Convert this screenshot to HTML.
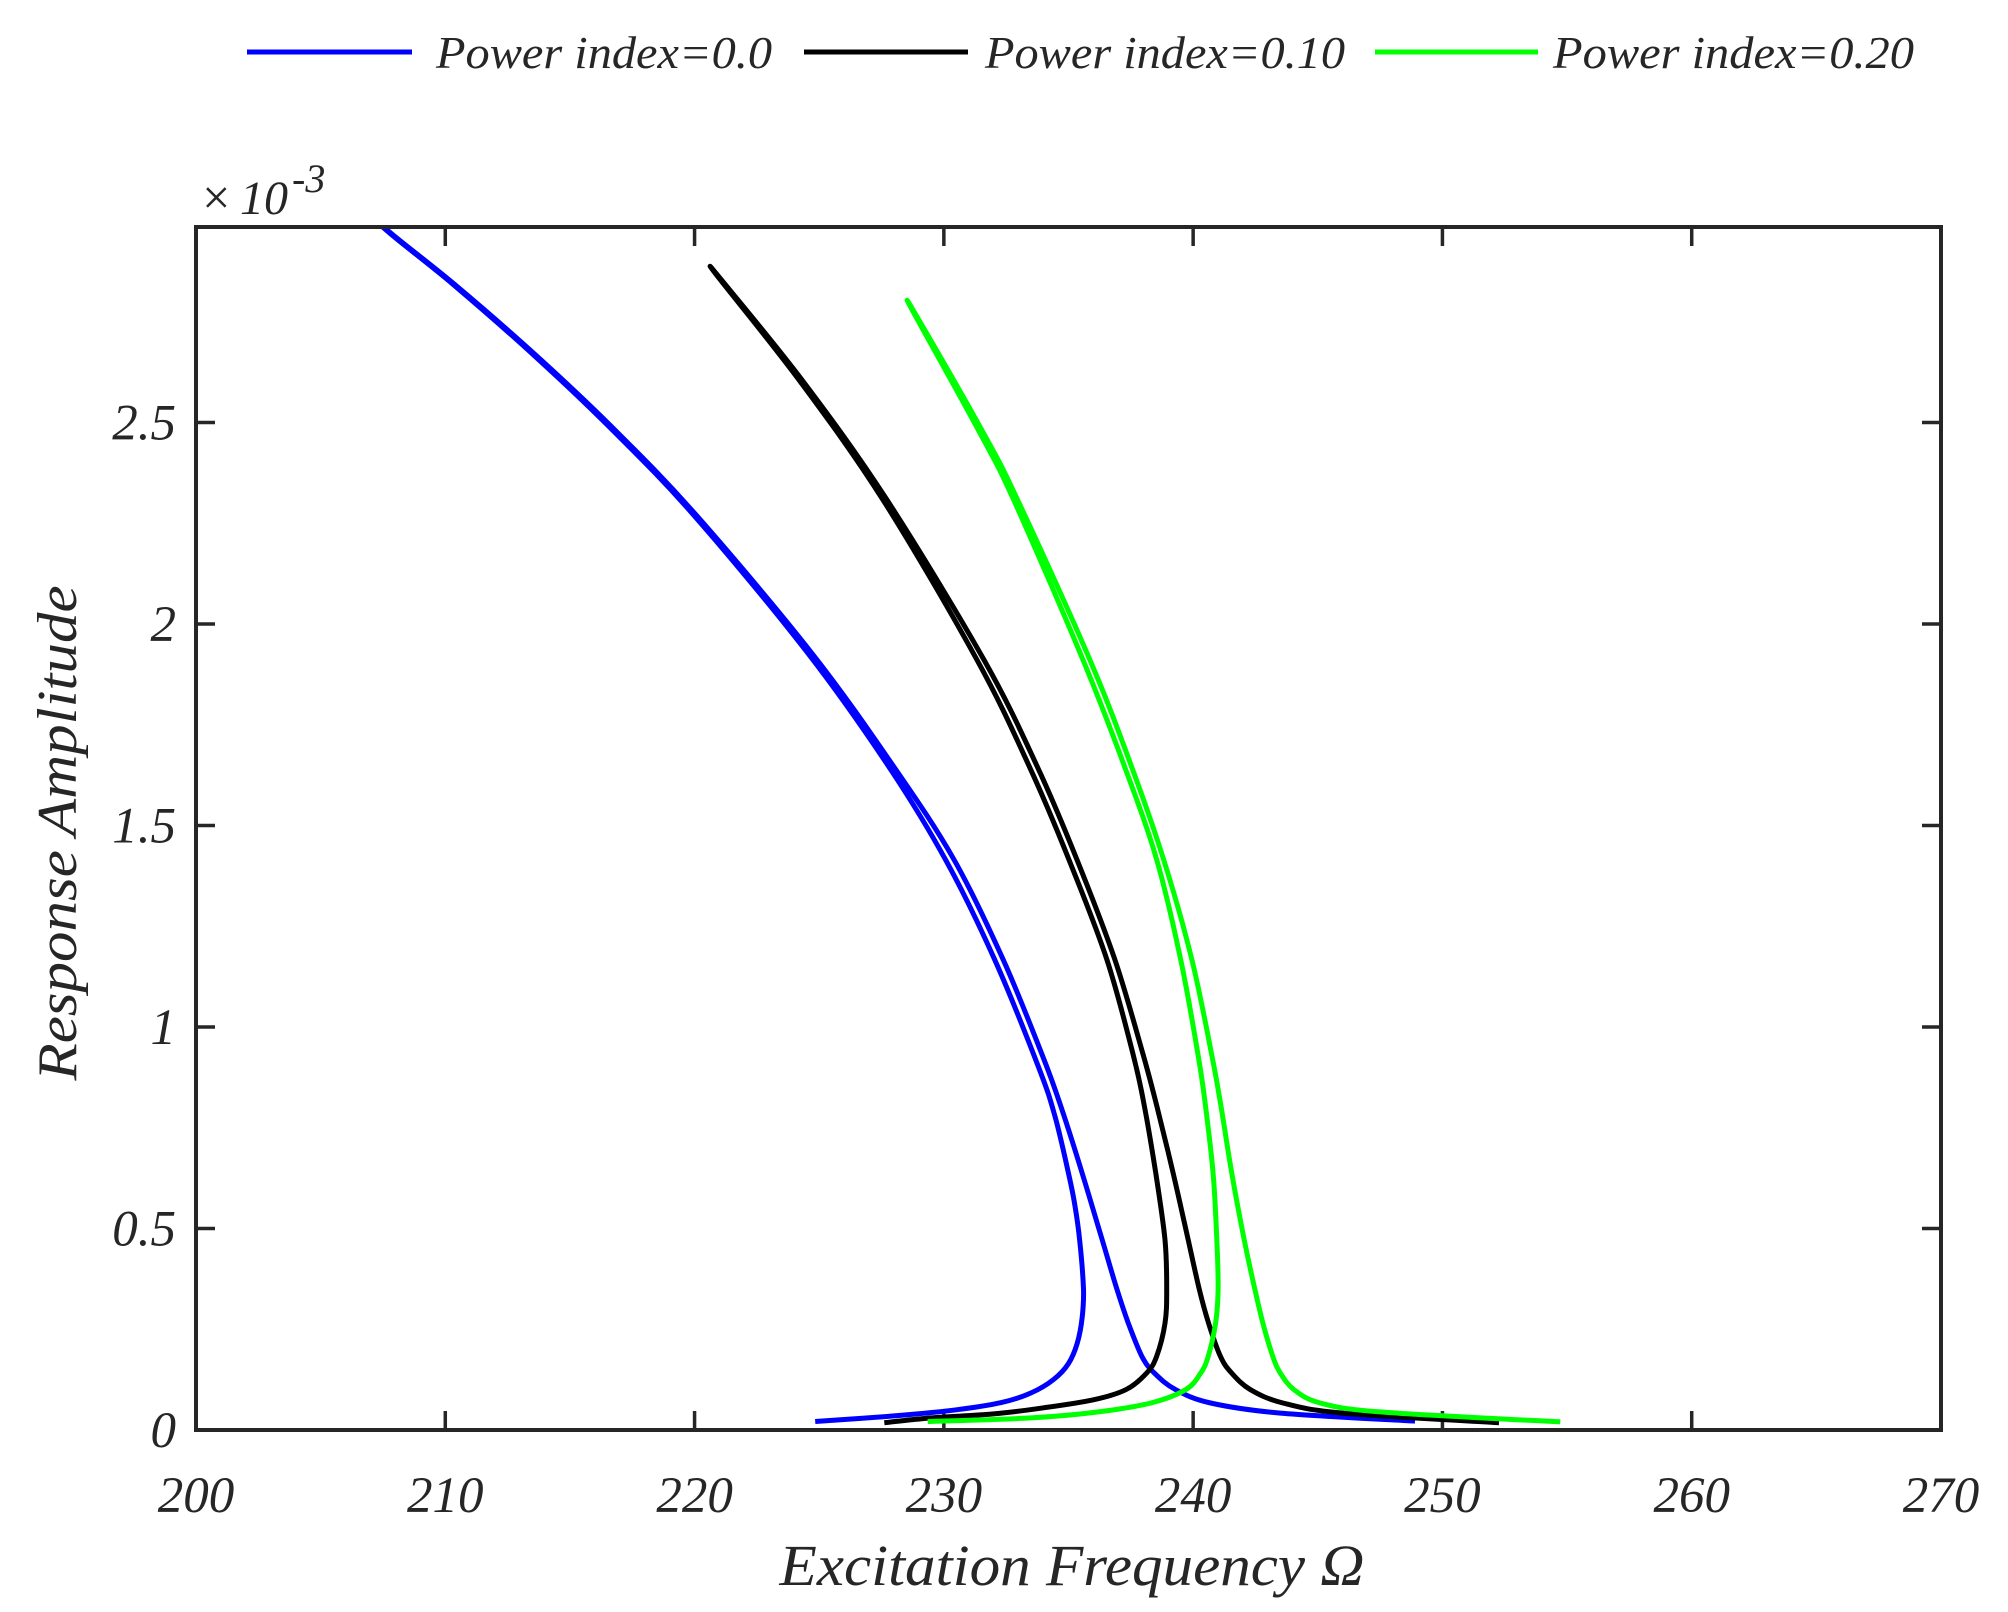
<!DOCTYPE html>
<html><head><meta charset="utf-8">
<style>
html,body{margin:0;padding:0;background:#fff;}
svg{display:block;}
text{font-family:"Liberation Serif",serif;font-style:italic;fill:#262626;}
</style></head>
<body>
<svg id="chart" width="2008" height="1612" viewBox="0 0 2008 1612" xmlns="http://www.w3.org/2000/svg">
<defs><clipPath id="plotclip"><rect x="196" y="227" width="1745" height="1203"/></clipPath></defs>
<g id="legend">
  <g>
    <line x1="247" y1="52" x2="412" y2="52" stroke="#0000ff" stroke-width="5"/>
    <text x="436" y="68" font-size="46" textLength="336" lengthAdjust="spacingAndGlyphs">Power index=0.0</text>
  </g>
  <g>
    <line x1="804" y1="52" x2="968" y2="52" stroke="#000000" stroke-width="5"/>
    <text x="985" y="68" font-size="46" textLength="360" lengthAdjust="spacingAndGlyphs">Power index=0.10</text>
  </g>
  <g>
    <line x1="1375" y1="52" x2="1538" y2="52" stroke="#00ff00" stroke-width="5"/>
    <text x="1553" y="68" font-size="46" textLength="361" lengthAdjust="spacingAndGlyphs">Power index=0.20</text>
  </g>
</g>
<g id="axes"></g>
<g id="series" clip-path="url(#plotclip)"></g>
<rect x="196" y="227" width="1745" height="1203" fill="none" stroke="#262626" stroke-width="4"/>
<g>
  <text x="199" y="214" font-size="50" font-style="normal">×</text>
  <text x="240" y="214" font-size="48">10</text>
  <text x="292" y="192" font-size="40">-3</text>
</g>
<text x="1072" y="1585" font-size="58" text-anchor="middle" textLength="585" lengthAdjust="spacingAndGlyphs">Excitation Frequency Ω</text>
<text transform="translate(76,833) rotate(-90)" font-size="56" text-anchor="middle" textLength="495" lengthAdjust="spacingAndGlyphs">Response Amplitude</text>
</svg>
<script>
const xTicks = [200,210,220,230,240,250,260,270];
const yTicks = [0,0.5,1,1.5,2,2.5];
const yTickLabels = ["0","0.5","1","1.5","2","2.5"];
const seriesNames = ["Power index=0.0","Power index=0.10","Power index=0.20"];
const seriesColors = ["#0000ff","#000000","#00ff00"];
const blueX = [224.84,228.0,230.5,232.3,233.5,234.4,235.0,235.35,235.55,235.6,235.45,235.25,235.0,234.45,233.8,232.04,230.07,227.79,224.54,219.97,216.58,213.57,210.31,207.53,206.6,207.57,210.37,213.65,216.68,220.07,224.70,227.99,230.41,232.38,233.95,234.7,235.55,236.35,236.95,237.4,237.95,238.45,239.3,240.7,243.5,248.9];
const blueY = [0.021,0.035,0.050,0.068,0.092,0.125,0.165,0.215,0.280,0.350,0.470,0.560,0.637,0.780,0.900,1.167,1.415,1.646,1.928,2.270,2.489,2.666,2.843,2.983,3.05,2.983,2.843,2.666,2.489,2.270,1.928,1.646,1.415,1.167,0.93,0.802,0.637,0.472,0.348,0.265,0.182,0.141,0.100,0.067,0.042,0.022];
const blackX = [227.61,229.5,232.0,234.0,236.0,237.3,238.13,238.53,238.87,238.94,238.87,238.5,238.05,237.6,236.54,235.02,233.43,231.33,227.56,224.22,221.01,221.05,224.34,227.72,231.61,233.75,235.34,236.86,238.0,238.55,239.2,239.8,240.25,240.62,241.1,241.55,242.3,243.6,246.0,252.27];
const blackY = [0.018,0.030,0.040,0.055,0.075,0.100,0.141,0.182,0.265,0.348,0.472,0.637,0.802,0.93,1.167,1.415,1.646,1.911,2.308,2.603,2.856,2.856,2.603,2.308,1.911,1.646,1.415,1.167,0.93,0.802,0.637,0.472,0.348,0.265,0.182,0.141,0.100,0.067,0.042,0.018];
const greenX = [229.35,233.5,236.2,238.3,239.7,240.3,240.6,240.9,241.0,240.95,240.8,240.5,240.2,239.5,238.54,237.25,235.58,232.80,231.43,228.84,228.88,231.57,232.96,235.86,237.53,238.82,239.95,240.75,241.12,241.55,242.05,242.48,242.8,243.2,243.5,244.05,245.1,247.5,254.73];
const greenY = [0.021,0.030,0.045,0.067,0.100,0.141,0.182,0.265,0.348,0.472,0.637,0.802,0.93,1.167,1.415,1.646,1.911,2.308,2.476,2.767,2.767,2.476,2.308,1.911,1.646,1.415,1.167,0.93,0.802,0.637,0.472,0.348,0.265,0.182,0.141,0.100,0.067,0.045,0.020];

const NS = "http://www.w3.org/2000/svg";
const X0 = 196, X1 = 1941, XMIN = 200, XMAX = 270;
const YB = 1430, YPX = 403;
function sx(v){ return X0 + (v - XMIN) * (X1 - X0) / (XMAX - XMIN); }
function sy(v){ return YB - v * YPX; }

const axes = document.getElementById('axes');
xTicks.forEach(t => {
  const x = sx(t);
  [[1430,1411],[227,246]].forEach(([a,b]) => {
    const l = document.createElementNS(NS,'line');
    l.setAttribute('x1',x); l.setAttribute('x2',x); l.setAttribute('y1',a); l.setAttribute('y2',b);
    l.setAttribute('stroke','#262626'); l.setAttribute('stroke-width','3.5');
    
    
    axes.appendChild(l);
  });
  const tx = document.createElementNS(NS,'text');
  tx.setAttribute('x',x); tx.setAttribute('y',1512);
  tx.setAttribute('font-size','51'); tx.setAttribute('text-anchor','middle');
  tx.textContent = String(t);
  
  
  axes.appendChild(tx);
});
yTicks.forEach((t,i) => {
  const y = sy(t);
  [[196,215],[1941,1922]].forEach(([a,b]) => {
    const l = document.createElementNS(NS,'line');
    l.setAttribute('x1',a); l.setAttribute('x2',b); l.setAttribute('y1',y); l.setAttribute('y2',y);
    l.setAttribute('stroke','#262626'); l.setAttribute('stroke-width','3.5');
    
    
    axes.appendChild(l);
  });
  const tx = document.createElementNS(NS,'text');
  tx.setAttribute('x',176); tx.setAttribute('y',y+17);
  tx.setAttribute('font-size','51'); tx.setAttribute('text-anchor','end');
  tx.textContent = yTickLabels[i];
  
  
  axes.appendChild(tx);
});

function smoothPath(xs, ys){
  const p = xs.map((v,i)=>[sx(v), sy(ys[i])]);
  let d = 'M' + p[0][0].toFixed(1) + ',' + p[0][1].toFixed(1);
  for (let i=0;i<p.length-1;i++){
    const p0 = p[Math.max(i-1,0)], p1 = p[i], p2 = p[i+1], p3 = p[Math.min(i+2,p.length-1)];
    const c1 = [p1[0]+(p2[0]-p0[0])/6, p1[1]+(p2[1]-p0[1])/6];
    const c2 = [p2[0]-(p3[0]-p1[0])/6, p2[1]-(p3[1]-p1[1])/6];
    d += ' C' + c1[0].toFixed(1)+','+c1[1].toFixed(1)+' '+c2[0].toFixed(1)+','+c2[1].toFixed(1)+' '+p2[0].toFixed(1)+','+p2[1].toFixed(1);
  }
  return d;
}
const seriesG = document.getElementById('series');
const allX = [blueX, blackX, greenX], allY = [blueY, blackY, greenY];
const seriesIds = ['series-power-0.0','series-power-0.10','series-power-0.20'];
allX.forEach((xs,k) => {
  const path = document.createElementNS(NS,'path');
  path.setAttribute('d', smoothPath(xs, allY[k]));
  path.setAttribute('fill','none');
  path.setAttribute('stroke', seriesColors[k]);
  path.setAttribute('stroke-width','5');
  path.setAttribute('stroke-linejoin','round');
  
  
  seriesG.appendChild(path);
});
</script>
</body></html>
